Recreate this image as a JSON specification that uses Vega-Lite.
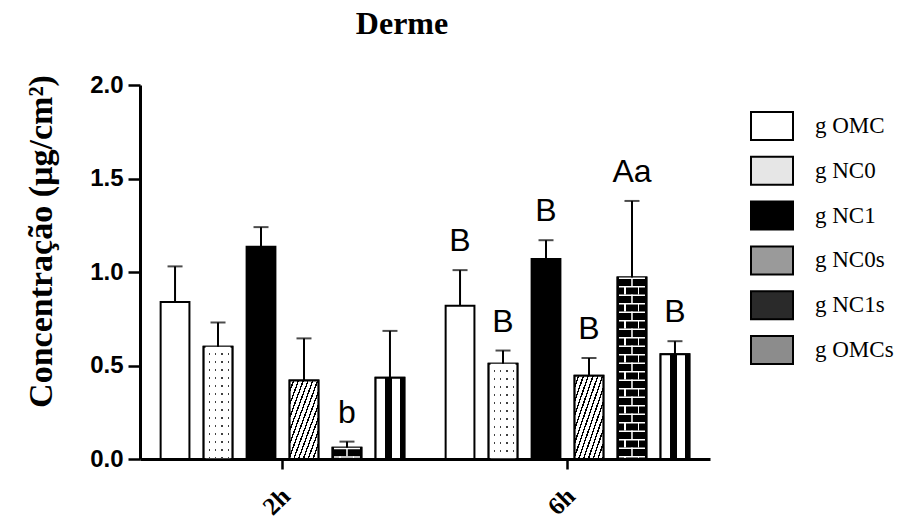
{
  "$schema": "https://vega.github.io/schema/vega-lite/v6.json",
  "autosize": "none",
  "padding": {"left": 140, "top": 85, "right": 195, "bottom": 61},
  "width": 570,
  "height": 374,
  "background": "white",
  "config": {
    "view": {"stroke": null},
    "axis": {"grid": false, "domainColor": "black", "tickColor": "black", "labelColor": "black", "titleColor": "black"}
  },
  "title": {"text": "Derme", "font": "Liberation Serif", "fontSize": 32, "fontWeight": "bold", "color": "black", "anchor": "middle", "dx": -23, "offset": 32},
  "data": {
    "values": [
      {"time": "2h", "group": "OMC", "mean": 0.84, "upper": 1.03, "label": ""},
      {"time": "2h", "group": "NC0", "mean": 0.60, "upper": 0.73, "label": ""},
      {"time": "2h", "group": "NC1", "mean": 1.135, "upper": 1.24, "label": ""},
      {"time": "2h", "group": "NC0s", "mean": 0.42, "upper": 0.645, "label": ""},
      {"time": "2h", "group": "NC1s", "mean": 0.06, "upper": 0.093, "label": "b"},
      {"time": "2h", "group": "OMCs", "mean": 0.435, "upper": 0.685, "label": ""},
      {"time": "6h", "group": "OMC", "mean": 0.82, "upper": 1.01, "label": "B"},
      {"time": "6h", "group": "NC0", "mean": 0.51, "upper": 0.58, "label": "B"},
      {"time": "6h", "group": "NC1", "mean": 1.07, "upper": 1.17, "label": "B"},
      {"time": "6h", "group": "NC0s", "mean": 0.445, "upper": 0.54, "label": "B"},
      {"time": "6h", "group": "NC1s", "mean": 0.97, "upper": 1.38, "label": "Aa"},
      {"time": "6h", "group": "OMCs", "mean": 0.56, "upper": 0.63, "label": "B"}
    ]
  },
  "encoding": {
    "x": {
      "field": "time", "type": "nominal",
      "scale": {"paddingInner": 0, "paddingOuter": 0},
      "axis": {
        "title": null, "labelAngle": -45, "labelAlign": "center", "labelBaseline": "middle",
        "labelFont": "Liberation Serif", "labelFontWeight": "bold", "labelFontSize": 25,
        "labelPadding": 32, "labelOffset": -6,
        "domainWidth": 3, "tickWidth": 2.5, "tickSize": 10
      }
    },
    "xOffset": {
      "field": "group", "type": "nominal",
      "scale": {"domain": ["OMC", "NC0", "NC1", "NC0s", "NC1s", "OMCs"], "paddingInner": 0.33, "paddingOuter": 0.48}
    }
  },
  "layer": [
    {
      "mark": {"type": "bar", "stroke": "black", "strokeWidth": 2},
      "encoding": {
        "y": {
          "field": "mean", "type": "quantitative",
          "scale": {"domain": [0, 2], "nice": false},
          "axis": {
            "title": "Concentração (µg/cm²)", "titleFont": "Liberation Serif", "titleFontWeight": "bold", "titleFontSize": 34,
            "titleX": -99, "titleY": 156, "titleAngle": 270, "titleAlign": "center", "titleBaseline": "middle",
            "values": [0, 0.5, 1, 1.5, 2], "format": ".1f",
            "labelFont": "Liberation Sans", "labelFontWeight": "bold", "labelFontSize": 24, "labelPadding": 5,
            "domainWidth": 3, "tickWidth": 2.5, "tickSize": 12
          }
        },
        "fill": {
          "field": "group", "type": "nominal",
          "scale": {
            "domain": ["OMC", "NC0", "NC1", "NC0s", "NC1s", "OMCs"],
            "range": ["#ffffff", "#e6e6e6", "#000000", "#9a9a9a", "#2a2a2a", "#8c8c8c"]
          },
          "legend": {
            "title": null, "orient": "none", "legendX": 610, "legendY": 19,
            "symbolType": "M-1,-0.667H1V0.667H-1Z", "symbolSize": 1764,
            "symbolStrokeColor": "black", "symbolStrokeWidth": 2, "symbolOpacity": 1,
            "labelExpr": "'g ' + datum.label",
            "labelFont": "Liberation Serif", "labelFontSize": 23, "labelColor": "black",
            "labelOffset": 21, "rowPadding": 3.8, "labelLimit": 200
          }
        }
      }
    },
    {
      "transform": [{"filter": "datum.group === 'NC0s'"}],
      "mark": {"type": "bar", "stroke": "black", "strokeWidth": 2, "fill": {"gradient": "linear", "x1": 0, "y1": 0, "x2": 1, "y2": 1, "stops": [
        {"offset": 0, "color": "white"}, {"offset": 0.0583, "color": "white"}, {"offset": 0.0583, "color": "black"}, {"offset": 0.0833, "color": "black"},
        {"offset": 0.0833, "color": "white"}, {"offset": 0.1417, "color": "white"}, {"offset": 0.1417, "color": "black"}, {"offset": 0.1667, "color": "black"},
        {"offset": 0.1667, "color": "white"}, {"offset": 0.225, "color": "white"}, {"offset": 0.225, "color": "black"}, {"offset": 0.25, "color": "black"},
        {"offset": 0.25, "color": "white"}, {"offset": 0.3083, "color": "white"}, {"offset": 0.3083, "color": "black"}, {"offset": 0.3333, "color": "black"},
        {"offset": 0.3333, "color": "white"}, {"offset": 0.3917, "color": "white"}, {"offset": 0.3917, "color": "black"}, {"offset": 0.4167, "color": "black"},
        {"offset": 0.4167, "color": "white"}, {"offset": 0.475, "color": "white"}, {"offset": 0.475, "color": "black"}, {"offset": 0.5, "color": "black"},
        {"offset": 0.5, "color": "white"}, {"offset": 0.5583, "color": "white"}, {"offset": 0.5583, "color": "black"}, {"offset": 0.5833, "color": "black"},
        {"offset": 0.5833, "color": "white"}, {"offset": 0.6417, "color": "white"}, {"offset": 0.6417, "color": "black"}, {"offset": 0.6667, "color": "black"},
        {"offset": 0.6667, "color": "white"}, {"offset": 0.725, "color": "white"}, {"offset": 0.725, "color": "black"}, {"offset": 0.75, "color": "black"},
        {"offset": 0.75, "color": "white"}, {"offset": 0.8083, "color": "white"}, {"offset": 0.8083, "color": "black"}, {"offset": 0.8333, "color": "black"},
        {"offset": 0.8333, "color": "white"}, {"offset": 0.8917, "color": "white"}, {"offset": 0.8917, "color": "black"}, {"offset": 0.9167, "color": "black"},
        {"offset": 0.9167, "color": "white"}, {"offset": 0.975, "color": "white"}, {"offset": 0.975, "color": "black"}, {"offset": 1, "color": "black"}
      ]}},
      "encoding": {"y": {"field": "mean", "type": "quantitative"}}
    },
    {
      "transform": [{"filter": "datum.group === 'OMCs'"}],
      "mark": {"type": "bar", "stroke": "black", "strokeWidth": 2, "fill": {"gradient": "linear", "x1": 0, "y1": 0, "x2": 1, "y2": 0, "stops": [
        {"offset": 0, "color": "white"}, {"offset": 0.33, "color": "white"}, {"offset": 0.33, "color": "black"}, {"offset": 0.56, "color": "black"},
        {"offset": 0.56, "color": "white"}, {"offset": 0.86, "color": "white"}, {"offset": 0.86, "color": "black"}, {"offset": 1, "color": "black"}
      ]}},
      "encoding": {"y": {"field": "mean", "type": "quantitative"}}
    },
    {
      "transform": [{"filter": "datum.group === 'NC0'"}],
      "mark": {"type": "bar", "stroke": "black", "strokeWidth": 2, "fill": {"gradient": "linear", "x1": 0, "y1": 0, "x2": 1, "y2": 0, "stops": [
        {"offset": 0, "color": "white"}, {"offset": 0.17, "color": "white"}, {"offset": 0.17, "color": "black"}, {"offset": 0.22, "color": "black"},
        {"offset": 0.22, "color": "white"}, {"offset": 0.39, "color": "white"}, {"offset": 0.39, "color": "black"}, {"offset": 0.44, "color": "black"},
        {"offset": 0.44, "color": "white"}, {"offset": 0.61, "color": "white"}, {"offset": 0.61, "color": "black"}, {"offset": 0.66, "color": "black"},
        {"offset": 0.66, "color": "white"}, {"offset": 0.83, "color": "white"}, {"offset": 0.83, "color": "black"}, {"offset": 0.88, "color": "black"},
        {"offset": 0.88, "color": "white"}, {"offset": 1, "color": "white"}
      ]}},
      "encoding": {"y": {"field": "mean", "type": "quantitative"}}
    },
    {
      "transform": [{"filter": "datum.group === 'NC0'"}],
      "mark": {"type": "rule", "color": "white", "strokeWidth": 25, "strokeDash": [6.5, 1.5]},
      "encoding": {"y": {"field": "mean", "type": "quantitative"}, "y2": {"datum": 0}}
    },
    {
      "transform": [{"filter": "datum.group === 'NC1s'"}],
      "mark": {"type": "bar", "stroke": "black", "strokeWidth": 2, "fill": {"gradient": "linear", "x1": 0, "y1": 0, "x2": 1, "y2": 0, "stops": [
        {"offset": 0, "color": "black"}, {"offset": 0.24, "color": "black"}, {"offset": 0.24, "color": "white"}, {"offset": 0.29, "color": "white"},
        {"offset": 0.29, "color": "black"}, {"offset": 0.71, "color": "black"}, {"offset": 0.71, "color": "white"}, {"offset": 0.76, "color": "white"},
        {"offset": 0.76, "color": "black"}, {"offset": 1, "color": "black"}
      ]}},
      "encoding": {"y": {"field": "mean", "type": "quantitative"}}
    },
    {
      "transform": [{"filter": "datum.group === 'NC1s'"}],
      "mark": {"type": "rule", "color": "black", "strokeWidth": 19, "strokeDash": [8.5, 8.5]},
      "encoding": {"y": {"field": "mean", "type": "quantitative"}, "y2": {"datum": 0}}
    },
    {
      "transform": [{"filter": "datum.group === 'NC1s'"}],
      "mark": {"type": "rule", "color": "white", "strokeWidth": 1.5, "strokeDash": [8.5, 8.5]},
      "encoding": {"y": {"field": "mean", "type": "quantitative"}, "y2": {"datum": 0}}
    },
    {
      "transform": [{"filter": "datum.group === 'NC1s'"}],
      "mark": {"type": "rule", "color": "white", "strokeWidth": 26, "strokeDash": [1.5, 7]},
      "encoding": {"y": {"field": "mean", "type": "quantitative"}, "y2": {"datum": 0}}
    },
    {
      "mark": {"type": "rule", "color": "black", "strokeWidth": 2},
      "encoding": {"y": {"field": "mean", "type": "quantitative"}, "y2": {"field": "upper"}}
    },
    {
      "mark": {"type": "tick", "color": "black", "orient": "horizontal", "size": 15, "thickness": 2},
      "encoding": {"y": {"field": "upper", "type": "quantitative"}}
    },
    {
      "mark": {"type": "text", "font": "Liberation Sans", "fontSize": 32, "color": "black", "baseline": "alphabetic", "dy": -19},
      "encoding": {"y": {"field": "upper", "type": "quantitative"}, "text": {"field": "label"}}
    }
  ]
}
